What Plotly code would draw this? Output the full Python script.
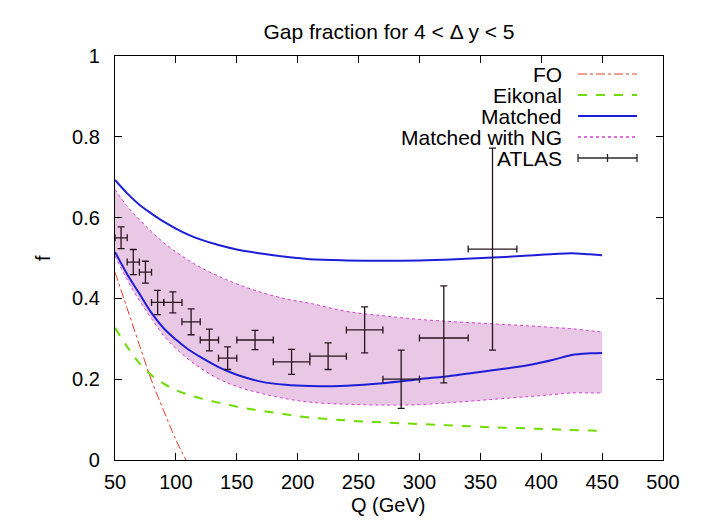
import plotly.graph_objects as go

# Q grid for the theory curves (GeV)
q_grid = [50, 60, 70, 80, 90, 100, 110, 120, 135, 150, 170, 190, 210, 240,
          270, 300, 330, 360, 390, 410, 425, 440, 450]

matched_hi = [0.693, 0.660, 0.632, 0.610, 0.590, 0.573, 0.558, 0.546, 0.532,
              0.521, 0.511, 0.503, 0.497, 0.494, 0.493, 0.494, 0.497, 0.501,
              0.506, 0.510, 0.512, 0.509, 0.507]
matched_lo = [0.515, 0.460, 0.412, 0.364, 0.326, 0.298, 0.274, 0.255, 0.230,
              0.211, 0.194, 0.186, 0.183, 0.184, 0.190, 0.200, 0.210, 0.222,
              0.235, 0.248, 0.260, 0.264, 0.265]
ng_hi = [0.670, 0.628, 0.595, 0.565, 0.538, 0.515, 0.495, 0.477, 0.455, 0.436,
         0.415, 0.399, 0.388, 0.368, 0.357, 0.348, 0.342, 0.337, 0.332, 0.328,
         0.325, 0.320, 0.317]
ng_lo = [0.505, 0.446, 0.395, 0.350, 0.308, 0.276, 0.250, 0.228, 0.201, 0.182,
         0.165, 0.152, 0.143, 0.138, 0.136, 0.137, 0.143, 0.150, 0.157, 0.162,
         0.166, 0.166, 0.166]
eikonal = [0.327, 0.280, 0.240, 0.210, 0.189, 0.173, 0.162, 0.153, 0.142,
           0.132, 0.122, 0.113, 0.105, 0.098, 0.093, 0.089, 0.085, 0.081,
           0.078, 0.076, 0.074, 0.073, 0.072]

# Fixed-order curve (falls through zero near 108 GeV)
fo_q = [50, 60, 70, 80, 90, 100, 110]
fo_f = [0.465, 0.375, 0.285, 0.197, 0.122, 0.050, -0.010]

# ATLAS measurement
atlas_q = [55, 65, 75, 85, 97.5, 112.5, 127.5, 142.5, 165, 195, 225, 255,
           285, 320, 360]
atlas_dq = [5, 5, 5, 5, 7.5, 7.5, 7.5, 7.5, 15, 15, 15, 15, 15, 20, 20]
atlas_f = [0.550, 0.490, 0.465, 0.390, 0.390, 0.342, 0.297, 0.252, 0.297,
           0.243, 0.257, 0.322, 0.200, 0.302, 0.522]
atlas_up = [0.027, 0.031, 0.027, 0.030, 0.026, 0.032, 0.027, 0.028, 0.024,
            0.031, 0.033, 0.057, 0.072, 0.129, 0.250]
atlas_dn = [0.027, 0.031, 0.027, 0.030, 0.026, 0.032, 0.027, 0.028, 0.024,
            0.031, 0.033, 0.057, 0.072, 0.111, 0.250]

x_ticks = [50, 100, 150, 200, 250, 300, 350, 400, 450, 500]
y_ticks = [0, 0.2, 0.4, 0.6, 0.8, 1]
y_tick_text = ["0", "0.2", "0.4", "0.6", "0.8", "1"]

legend_names = ["FO", "Eikonal", "Matched", "Matched with NG", "ATLAS"]

RED = "rgb(225,60,40)"
GREEN = "rgb(110,220,0)"
BLUE = "rgb(30,30,215)"
MAGENTA = "rgb(215,60,215)"
BAND = "rgba(232,200,228,1)"
FONT = "Liberation Sans, Arial, Helvetica, sans-serif"

fig = go.Figure()

# Non-global band
fig.add_trace(go.Scatter(x=q_grid, y=ng_lo, mode="lines", line_shape="spline",
                         line=dict(color=MAGENTA, width=1, dash="dot"),
                         showlegend=False, hoverinfo="skip"))
fig.add_trace(go.Scatter(x=q_grid, y=ng_hi, mode="lines", line_shape="spline",
                         line=dict(color=MAGENTA, width=1, dash="dot"),
                         fill="tonexty", fillcolor=BAND,
                         showlegend=False, hoverinfo="skip"))

# Eikonal and FO
fig.add_trace(go.Scatter(x=q_grid, y=eikonal, mode="lines", line_shape="spline",
                         line=dict(color=GREEN, width=2, dash="dash"),
                         showlegend=False))
fig.add_trace(go.Scatter(x=fo_q, y=fo_f, mode="lines", line_shape="spline",
                         line=dict(color=RED, width=1, dash="dashdot"),
                         showlegend=False))

# Matched (upper and lower scale choices)
for ys in (matched_hi, matched_lo):
    fig.add_trace(go.Scatter(x=q_grid, y=ys, mode="lines", line_shape="spline",
                             line=dict(color=BLUE, width=2),
                             showlegend=False))

# ATLAS points with error bars
fig.add_trace(go.Scatter(
    x=atlas_q, y=atlas_f, mode="markers",
    marker=dict(size=1, color="rgba(0,0,0,0)"),
    error_x=dict(type="data", array=atlas_dq, color="rgb(40,20,30)",
                 thickness=1.3, width=3.5),
    error_y=dict(type="data", symmetric=False, array=atlas_up,
                 arrayminus=atlas_dn, color="rgb(40,20,30)",
                 thickness=1.3, width=3.5),
    showlegend=False))

# Key in the upper right, text right-aligned before each line sample
PL, PR, PT, PB = 115, 663, 56, 460
def px_x(p):
    return (p - PL) / (PR - PL)
def px_y(p):
    return (PB - p) / (PB - PT)

key_rows = [74, 95, 116, 137, 158]
key_styles = [(RED, 1, "dashdot"), (GREEN, 2, "dash"), (BLUE, 2, "solid"),
              (MAGENTA, 1.5, "dot"), ("rgb(40,40,40)", 1.3, "solid")]
x_text, x0, x1 = px_x(563), px_x(578), px_x(637)
for name, row, (col, w, dash) in zip(legend_names, key_rows, key_styles):
    fig.add_annotation(x=x_text, y=px_y(row), xref="paper", yref="paper",
                       text=name, showarrow=False, xanchor="right",
                       yanchor="middle", font=dict(size=21, color="black"),
                       borderpad=0)
    fig.add_shape(type="line", xref="paper", yref="paper",
                  x0=x0, x1=x1, y0=px_y(row), y1=px_y(row),
                  line=dict(color=col, width=w, dash=dash))
# error-bar style end caps on the ATLAS sample
row = key_rows[-1]
for xc in (x0, (x0 + x1) / 2, x1):
    fig.add_shape(type="line", xref="paper", yref="paper",
                  x0=xc, x1=xc, y0=px_y(row - 4), y1=px_y(row + 4),
                  line=dict(color="rgb(40,40,40)", width=1.3))

# Axis titles
fig.add_annotation(x=px_x(30), y=0.5, xref="paper", yref="paper", text="f",
                   textangle=-90, showarrow=False, font=dict(size=20))
fig.add_annotation(x=px_x(388), y=px_y(517), xref="paper", yref="paper",
                   text="Q (GeV)", showarrow=False, font=dict(size=20),
                   borderpad=0)

axis_common = dict(showline=True, linecolor="black", linewidth=1.2,
                   ticks="inside", ticklen=7, tickcolor="black", tickwidth=1,
                   showgrid=False, zeroline=False,
                   tickfont=dict(size=20, color="black"))

fig.update_layout(
    width=722, height=529,
    margin=dict(l=PL, r=722 - PR, t=PT, b=529 - PB),
    paper_bgcolor="white", plot_bgcolor="white",
    font=dict(family=FONT, color="black"),
    title=dict(text="Gap fraction for 4 < \u0394 y < 5", x=(PL + PR) / 2 / 722,
               xanchor="center", y=1 - 32 / 529, yanchor="middle",
               yref="container", font=dict(size=21)),
    xaxis=dict(range=[50, 500], tickvals=x_ticks, mirror="allticks",
               ticklabelstandoff=4, **axis_common),
    yaxis=dict(range=[0, 1], tickvals=y_ticks, ticktext=y_tick_text,
               mirror="allticks", ticklabelstandoff=10, **axis_common),
    yaxis2=dict(range=[0, 1], tickvals=y_ticks, ticktext=y_tick_text,
                overlaying="y", side="right", showline=False, ticks="",
                showgrid=False, zeroline=False, ticklabelstandoff=14,
                tickfont=dict(size=20, color="black")),
    showlegend=False,
)

fig.write_html("out.html")
